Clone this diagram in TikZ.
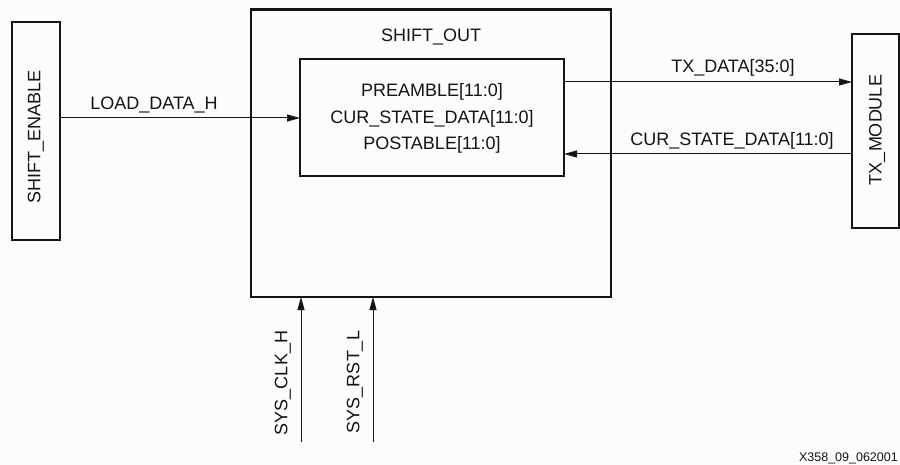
\documentclass[tikz,border=0pt]{standalone}
\usepackage{fontspec}
\setmainfont{Liberation Sans}
\usetikzlibrary{arrows.meta}
\definecolor{bg}{RGB}{252,252,250}
\definecolor{ink}{RGB}{20,20,20}
\begin{document}
\begin{tikzpicture}[x=1pt,y=-1pt,
  box/.style={draw=ink,line width=2.2pt,inner sep=0pt,outer sep=0pt,fill=bg},
  lbl/.style={inner sep=0pt,text=ink,font=\fontsize{18}{26.5}\selectfont},
  sig/.style={draw=ink,line width=1pt,-{Triangle[length=13pt,width=7pt]}}]
\fill[bg] (0,0) rectangle (900,465);
\useasboundingbox (0,0) rectangle (900,465);
% boxes
\node[box,minimum width=360pt,minimum height=287.5pt] (outer) at (431,153.25) {};
\node[box,minimum width=264pt,minimum height=117pt] (inner) at (432,117.5) {};
\node[box,minimum width=48pt,minimum height=218pt] (left) at (36,131) {};
\node[box,minimum width=47pt,minimum height=194pt] (tx) at (875.5,131) {};
% texts
\node[lbl] (outerlbl) at (431,37) {SHIFT\_OUT};
\node[lbl] (l1) at (432,92) {PREAMBLE[11:0]};
\node[lbl] (l2) at (432,118.5) {CUR\_STATE\_DATA[11:0]};
\node[lbl] (l3) at (432,145) {POSTABLE[11:0]};
\node[lbl,rotate=90] (leftlbl) at (36,137) {SHIFT\_ENABLE};
\node[lbl,rotate=90] (txlbl) at (877,130) {TX\_MODULE};
% coordinates
\coordinate (yload) at (0,118);
\coordinate (ytx) at (0,82);
\coordinate (ycur) at (0,154);
\coordinate (clk) at (301,442);
\coordinate (rst) at (373,442);
% connectors
\draw[sig] (left.east |- yload) -- (inner.west |- yload);
\draw[sig] (inner.east |- ytx) -- (tx.west |- ytx);
\draw[sig] (tx.west |- ycur) -- (inner.east |- ycur);
\draw[sig] (clk) -- (clk |- outer.south);
\draw[sig] (rst) -- (rst |- outer.south);
% signal labels
\node[lbl] (loadlbl) at (154,105) {LOAD\_DATA\_H};
\node[lbl] (txdlbl) at (733,68) {TX\_DATA[35:0]};
\node[lbl] (curlbl) at (732,141) {CUR\_STATE\_DATA[11:0]};
\node[lbl,rotate=90] (clklbl) at (283,383) {SYS\_CLK\_H};
\node[lbl,rotate=90] (rstlbl) at (355,382) {SYS\_RST\_L};
\node[inner sep=0pt,anchor=base east,text=ink,font=\fontsize{12.5}{15}\selectfont] (fig) at (898,461) {X358\_09\_062001};
\end{tikzpicture}
\end{document}
